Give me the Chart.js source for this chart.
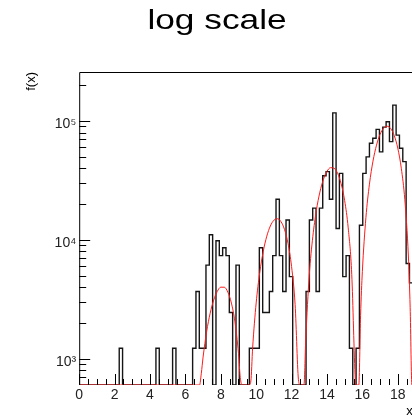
<!DOCTYPE html>
<html>
<head>
<meta charset="utf-8">
<script src="https://cdn.jsdelivr.net/npm/chart.js@4.4.1/dist/chart.umd.min.js"></script>
<style>
  html, body { margin: 0; padding: 0; background: #ffffff; overflow: hidden; width: 412px; height: 419px; }
  #wrap { position: absolute; left: 0; top: 0; width: 434px; height: 419px; }
</style>
</head>
<body>
<div id="wrap"><canvas id="c" width="434" height="419"></canvas></div>
<script>
// ---- data ----
const histMin = 0;
const histMax = 18.85;           // 6*pi
const nBins = 100;
const binCounts = [
  0, 0, 0, 0, 0, 0, 0, 0, 0, 0,
  0, 0, 1230, 0, 0, 0, 0, 0, 0, 0,
  0, 0, 0, 1230, 0, 0, 0, 0, 1230, 0,
  0, 0, 0, 0, 1230, 3690, 1230, 1230, 6150, 11070,
  0, 9840, 7380, 8610, 7380, 2460, 0, 6150, 0, 0,
  0, 1230, 1230, 1230, 8610, 2460, 2460, 3690, 7380, 22000,
  7380, 3690, 14700, 4920, 0, 0, 0, 0, 3690, 14700,
  18500, 3690, 18500, 34600, 37500, 22000, 117000, 12500, 36300, 4920,
  7380, 1230, 0, 1230, 13300, 36300, 49900, 65000, 71600, 85000,
  55000, 88800, 98600, 67000, 136000, 76000, 59000, 45500, 6350, 4360
];
const fitX = [0, 6.283, 6.8, 6.9, 7.0, 7.2, 7.4, 7.6, 7.8, 8.0, 8.2, 8.4, 8.6, 8.8, 9.0, 9.1, 9.2, 9.425,
  9.6, 9.7, 9.8, 10.0, 10.2, 10.4, 10.6, 10.8, 11.0, 11.2, 11.4, 11.6, 11.8, 12.0, 12.2, 12.4, 12.5, 12.566,
  12.7, 12.8, 13.0, 13.2, 13.4, 13.6, 13.8, 14.0, 14.2, 14.4, 14.6, 14.8, 15.0, 15.2, 15.4, 15.6, 15.65, 15.708,
  15.8, 15.9, 16.0, 16.2, 16.4, 16.6, 16.8, 17.0, 17.2, 17.4, 17.6, 17.8, 18.0, 18.2, 18.4, 18.6, 18.7, 18.8, 18.85];
const fitY = [0, 0, 522, 757, 1036, 1693, 2423, 3126, 3691, 4010, 4006, 3640, 2948, 2051, 1115, 699, 356, 0,
  257, 653, 1237, 2958, 5300, 8025, 10760, 13100, 14641, 15080, 14270, 12260, 9340, 5980, 2860, 646, 108, 0,
  464, 1444, 5050, 10650, 17680, 25250, 32300, 37700, 40500, 40080, 36400, 29730, 21400, 12630, 5150, 678, 198, 0,
  526, 2330, 5430, 15380, 29440, 45980, 62690, 77130, 87000, 90330, 86410, 75460, 59210, 40090, 21740, 7330, 2720, 307, 0];
const xTickValues = [0, 2, 4, 6, 8, 10, 12, 14, 16, 18];
const yTickValues = [1000, 10000, 100000];
const yTickLabels = ['10³', '10⁴', '10⁵'];
const yMin = 604;
const yMax = 258000;

// ---- build datasets ----
const binW = (histMax - histMin) / nBins;
const histPts = [];
binCounts.forEach((v, k) => {
  const y = Math.max(v, yMin);
  histPts.push({x: histMin + k * binW, y: y});
  histPts.push({x: histMin + (k + 1) * binW, y: y});
});
const fitPts = fitX.map((x, i) => ({x: x, y: Math.max(fitY[i], yMin)}));

// widen the title glyphs horizontally like the reference rendering
const titleStretch = {
  id: 'titleStretch',
  afterInit(chart) {
    const t = chart.titleBlock;
    if (!t) return;
    const orig = t.draw.bind(t);
    t.draw = function () {
      const ctx = chart.ctx;
      const cx = (t.left + t.right) / 2;
      ctx.save();
      ctx.translate(cx, 0);
      ctx.scale(1.26, 1);
      ctx.translate(-cx, 0);
      orig();
      ctx.restore();
    };
  }
};

// frame + inward ticks (ROOT style)
const framePlugin = {
  id: 'frame',
  afterDatasetsDraw(chart) {
    const {ctx, chartArea: a, scales: {x, y}} = chart;
    ctx.save();
    ctx.strokeStyle = '#000';
    ctx.lineWidth = 1;
    ctx.beginPath();
    ctx.moveTo(a.left + 0.5, a.bottom);
    ctx.lineTo(a.left + 0.5, a.top + 0.5);
    ctx.lineTo(a.right, a.top + 0.5);
    ctx.lineTo(a.right, a.bottom);
    ctx.stroke();
    ctx.beginPath();
    for (let v = 0; v <= histMax + 1e-9; v += 0.5) {
      const px = Math.round(x.getPixelForValue(v)) + 0.5;
      const major = Math.abs(v / 2 - Math.round(v / 2)) < 1e-9;
      ctx.moveTo(px, a.bottom);
      ctx.lineTo(px, a.bottom - (major ? 11 : 6));
    }
    for (let d = 100; d <= 1e6; d *= 10) {
      for (let m = 1; m <= 9; m++) {
        const v = d * m;
        if (v < yMin || v > yMax) continue;
        const py = Math.round(y.getPixelForValue(v)) + 0.5;
        ctx.moveTo(a.left, py);
        ctx.lineTo(a.left + (m === 1 ? 11 : 7), py);
      }
    }
    ctx.stroke();
    ctx.restore();
  }
};

new Chart(document.getElementById('c'), {
  type: 'scatter',
  data: {
    datasets: [
      { label: 'fit', data: fitPts, showLine: true, borderColor: '#ff1a1a', borderWidth: 1,
        pointRadius: 0, cubicInterpolationMode: 'monotone', order: 0 },
      { label: 'h', data: histPts, showLine: true, borderColor: '#151515', borderWidth: 1.4,
        pointRadius: 0, tension: 0, order: 1 }
    ]
  },
  options: {
    responsive: false,
    animation: false,
    devicePixelRatio: 1,
    layout: { padding: { left: 21.2, right: 21.2, top: 0, bottom: 0 } },
    plugins: {
      legend: { display: false },
      tooltip: { enabled: false },
      title: {
        display: true, text: 'log scale', color: '#000',
        font: { family: 'Liberation Sans, Arial, sans-serif', size: 28, weight: 'normal', lineHeight: 1.2 },
        padding: { top: 4.2, bottom: 34.2 }
      }
    },
    scales: {
      x: {
        type: 'linear', min: histMin, max: histMax,
        grid: { display: false, drawTicks: false },
        border: { display: false },
        afterBuildTicks: (s) => { s.ticks = xTickValues.map(v => ({value: v})); },
        afterFit: (s) => { s.height = 34; },
        ticks: { color: '#222', padding: 2, maxRotation: 0, autoSkip: false,
          font: { family: 'Liberation Sans, Arial, sans-serif', size: 14 },
          callback: (v) => String(v) },
        title: { display: true, text: 'x', align: 'end', color: '#000',
          font: { family: 'Liberation Sans, Arial, sans-serif', size: 13 }, padding: { top: 0, bottom: 0 } }
      },
      y: {
        type: 'logarithmic', min: yMin, max: yMax,
        grid: { display: false, drawTicks: false },
        border: { display: false },
        afterBuildTicks: (s) => { s.ticks = yTickValues.map(v => ({value: v})); },
        afterFit: (s) => { s.width = 58; },
        ticks: { color: '#222', padding: 3, labelOffset: 3, autoSkip: false,
          font: { family: 'Liberation Sans, Arial, sans-serif', size: 14 },
          callback: (v) => { const i = yTickValues.indexOf(v); return i >= 0 ? yTickLabels[i] : ''; } },
        title: { display: true, text: 'f(x)', align: 'end', color: '#000',
          font: { family: 'Liberation Sans, Arial, sans-serif', size: 13 }, padding: { top: 2, bottom: 0 } }
      }
    }
  },
  plugins: [titleStretch, framePlugin]
});
</script>
</body>
</html>
